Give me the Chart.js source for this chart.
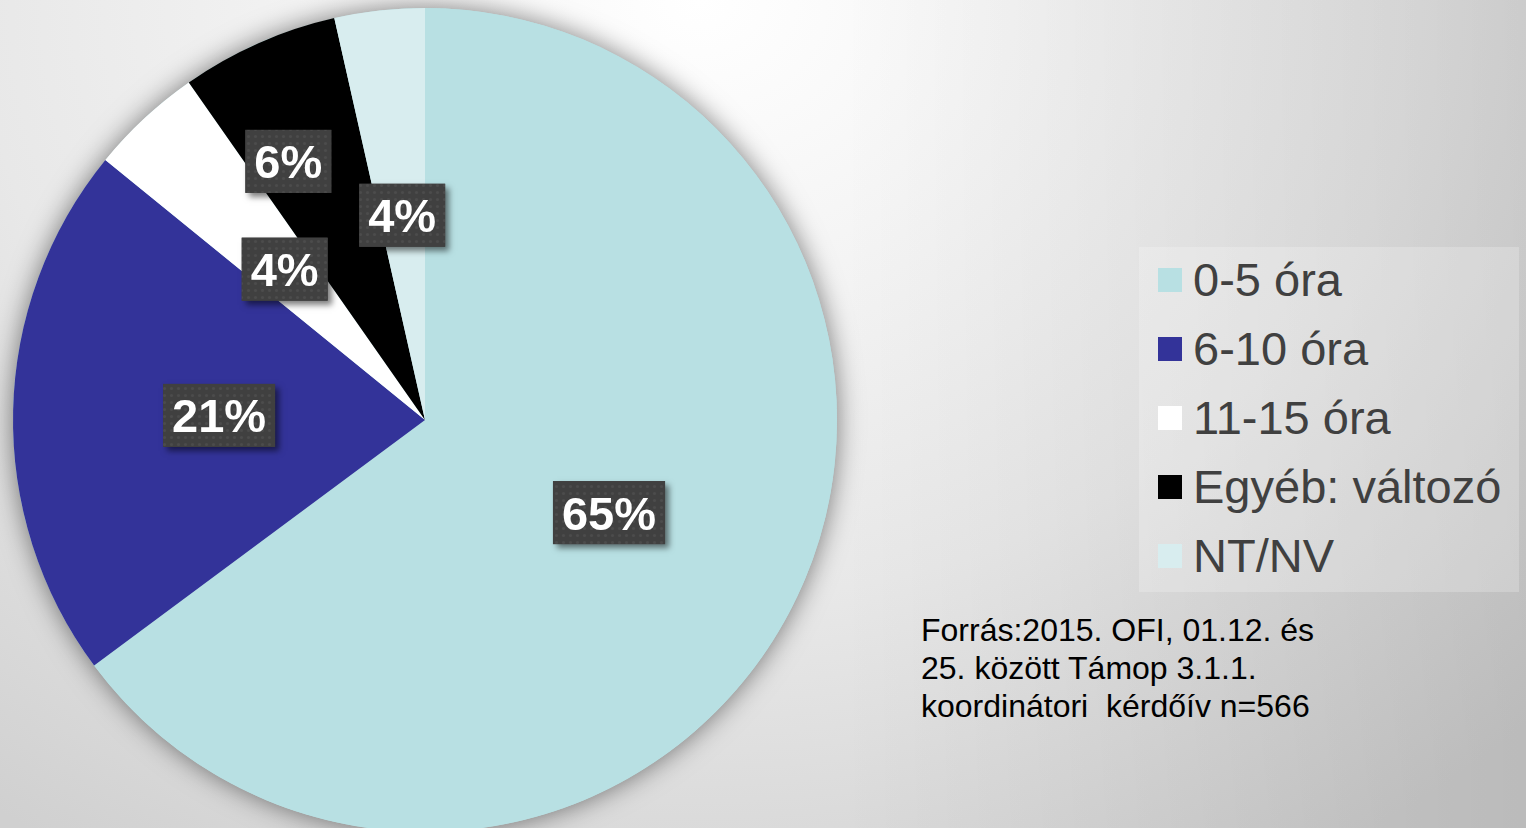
<!DOCTYPE html>
<html>
<head>
<meta charset="utf-8">
<script src="https://cdn.jsdelivr.net/npm/chart.js@4.4.1/dist/chart.umd.min.js"></script>
<style>
  html, body {
    margin: 0;
    padding: 0;
    width: 1526px;
    height: 828px;
    overflow: hidden;
    font-family: "Liberation Sans", Arial, sans-serif;
  }
  body {
    position: relative;
    background:
      linear-gradient(to right, rgba(0,0,0,0) 55%, rgba(0,0,0,0.1) 100%),
      radial-gradient(ellipse 1200px 1000px at 700px 0px, #ffffff 0%, #e8e8e8 60%, #d0d0d0 100%);
  }
  #chartBox {
    position: absolute;
    left: 0;
    top: 0;
    width: 900px;
    height: 840px;
  }
  #legend {
    position: absolute;
    left: 1139px;
    top: 247px;
    width: 380px;
    height: 345px;
    background: rgba(255, 255, 255, 0.22);
  }
  .legendItem {
    position: relative;
    top: -2px;
    display: flex;
    align-items: center;
    height: 69px;
    line-height: 69px;
    font-size: 47px;
    color: #404040;
    white-space: nowrap;
  }
  .legendItem span.box {
    display: inline-block;
    width: 24px;
    height: 24px;
    margin-left: 19px;
    margin-right: 11px;
  }
  #source {
    position: absolute;
    left: 921px;
    top: 611px;
    font-size: 32px;
    line-height: 38px;
    color: #000;
    white-space: pre;
  }
</style>
</head>
<body>
<div id="chartBox"><canvas id="pieChart"></canvas></div>
<div id="legend"></div>
<div id="source">Forrás:2015. OFI, 01.12. és
25. között Támop 3.1.1.
koordinátori  kérdőív n=566</div>

<script>
const categories = ["0-5 óra", "6-10 óra", "11-15 óra", "Egyéb: változó", "NT/NV"];
const counts = [367, 119, 25, 35, 20];
const sliceColors = ["#b8e0e3", "#333399", "#ffffff", "#000000", "#d8edef"];

// where each label sits (fraction of radius, angle nudge in degrees)
const labelRadius = [0.5, 0.5, 0.5, 0.71, 0.5];
const labelShift = [0, 0, 0, -4, 0];

function makeDotPattern(ctx) {
  const p = document.createElement("canvas");
  p.width = 7;
  p.height = 7;
  const pc = p.getContext("2d");
  pc.fillStyle = "#404040";
  pc.fillRect(0, 0, 7, 7);
  pc.fillStyle = "#4c4c4c";
  pc.beginPath();
  pc.arc(3.5, 3.5, 1.6, 0, Math.PI * 2);
  pc.fill();
  return ctx.createPattern(p, "repeat");
}

const pieShadow = {
  id: "pieShadow",
  beforeDatasetsDraw(chart) {
    const arc = chart.getDatasetMeta(0).data[0];
    if (!arc) return;
    const { x, y, outerRadius } = arc.getProps(["x", "y", "outerRadius"], true);
    const ctx = chart.ctx;
    ctx.save();
    ctx.shadowColor = "rgba(0,0,0,0.5)";
    ctx.shadowBlur = 26;
    ctx.fillStyle = sliceColors[0];
    ctx.beginPath();
    ctx.arc(x, y, outerRadius, 0, Math.PI * 2);
    ctx.fill();
    ctx.restore();
  }
};

const boxLabels = {
  id: "boxLabels",
  afterDatasetsDraw(chart) {
    const ctx = chart.ctx;
    const meta = chart.getDatasetMeta(0);
    const values = chart.data.datasets[0].data;
    const total = values.reduce((a, b) => a + b, 0);
    const pattern = makeDotPattern(ctx);
    ctx.save();
    ctx.font = "bold 47px 'Liberation Sans', Arial, sans-serif";
    meta.data.forEach((arc, i) => {
      const p = arc.getProps(["x", "y", "startAngle", "endAngle", "outerRadius"], true);
      const mid = (p.startAngle + p.endAngle) / 2 + labelShift[i] * Math.PI / 180;
      const r = p.outerRadius * labelRadius[i];
      const cx = p.x + Math.cos(mid) * r;
      const cy = p.y + Math.sin(mid) * r;
      const text = Math.round(values[i] / total * 100) + "%";
      const w = ctx.measureText(text).width + 18;
      const h = 63;

      ctx.save();
      ctx.shadowColor = "rgba(0,0,0,0.5)";
      ctx.shadowBlur = 6;
      ctx.shadowOffsetX = 4;
      ctx.shadowOffsetY = 4;
      ctx.fillStyle = "#404040";
      ctx.fillRect(cx - w / 2, cy - h / 2, w, h);
      ctx.restore();
      ctx.fillStyle = pattern;
      ctx.fillRect(cx - w / 2, cy - h / 2, w, h);

      ctx.fillStyle = "#ffffff";
      ctx.textAlign = "center";
      ctx.textBaseline = "alphabetic";
      ctx.fillText(text, cx, cy + 17);
    });
    ctx.restore();
  }
};

const pieCtx = document.getElementById("pieChart").getContext("2d");
const pieChartInstance = new Chart(pieCtx, {
  type: "pie",
  data: {
    labels: categories,
    datasets: [{
      data: counts,
      backgroundColor: sliceColors,
      borderWidth: 0
    }]
  },
  options: {
    responsive: true,
    maintainAspectRatio: false,
    animation: false,
    layout: {
      padding: { left: 8, right: 58, top: 8, bottom: 8 }
    },
    plugins: {
      legend: {
        display: false
      },
      tooltip: {
        enabled: false
      }
    }
  },
  plugins: [pieShadow, boxLabels]
});

// html legend built from the chart's own items
const legendEl = document.getElementById("legend");
pieChartInstance.options.plugins.legend.labels.generateLabels(pieChartInstance).forEach((item) => {
  const row = document.createElement("div");
  row.className = "legendItem";
  const box = document.createElement("span");
  box.className = "box";
  box.style.background = item.fillStyle;
  row.appendChild(box);
  row.appendChild(document.createTextNode(item.text));
  legendEl.appendChild(row);
});
</script>
</body>
</html>
